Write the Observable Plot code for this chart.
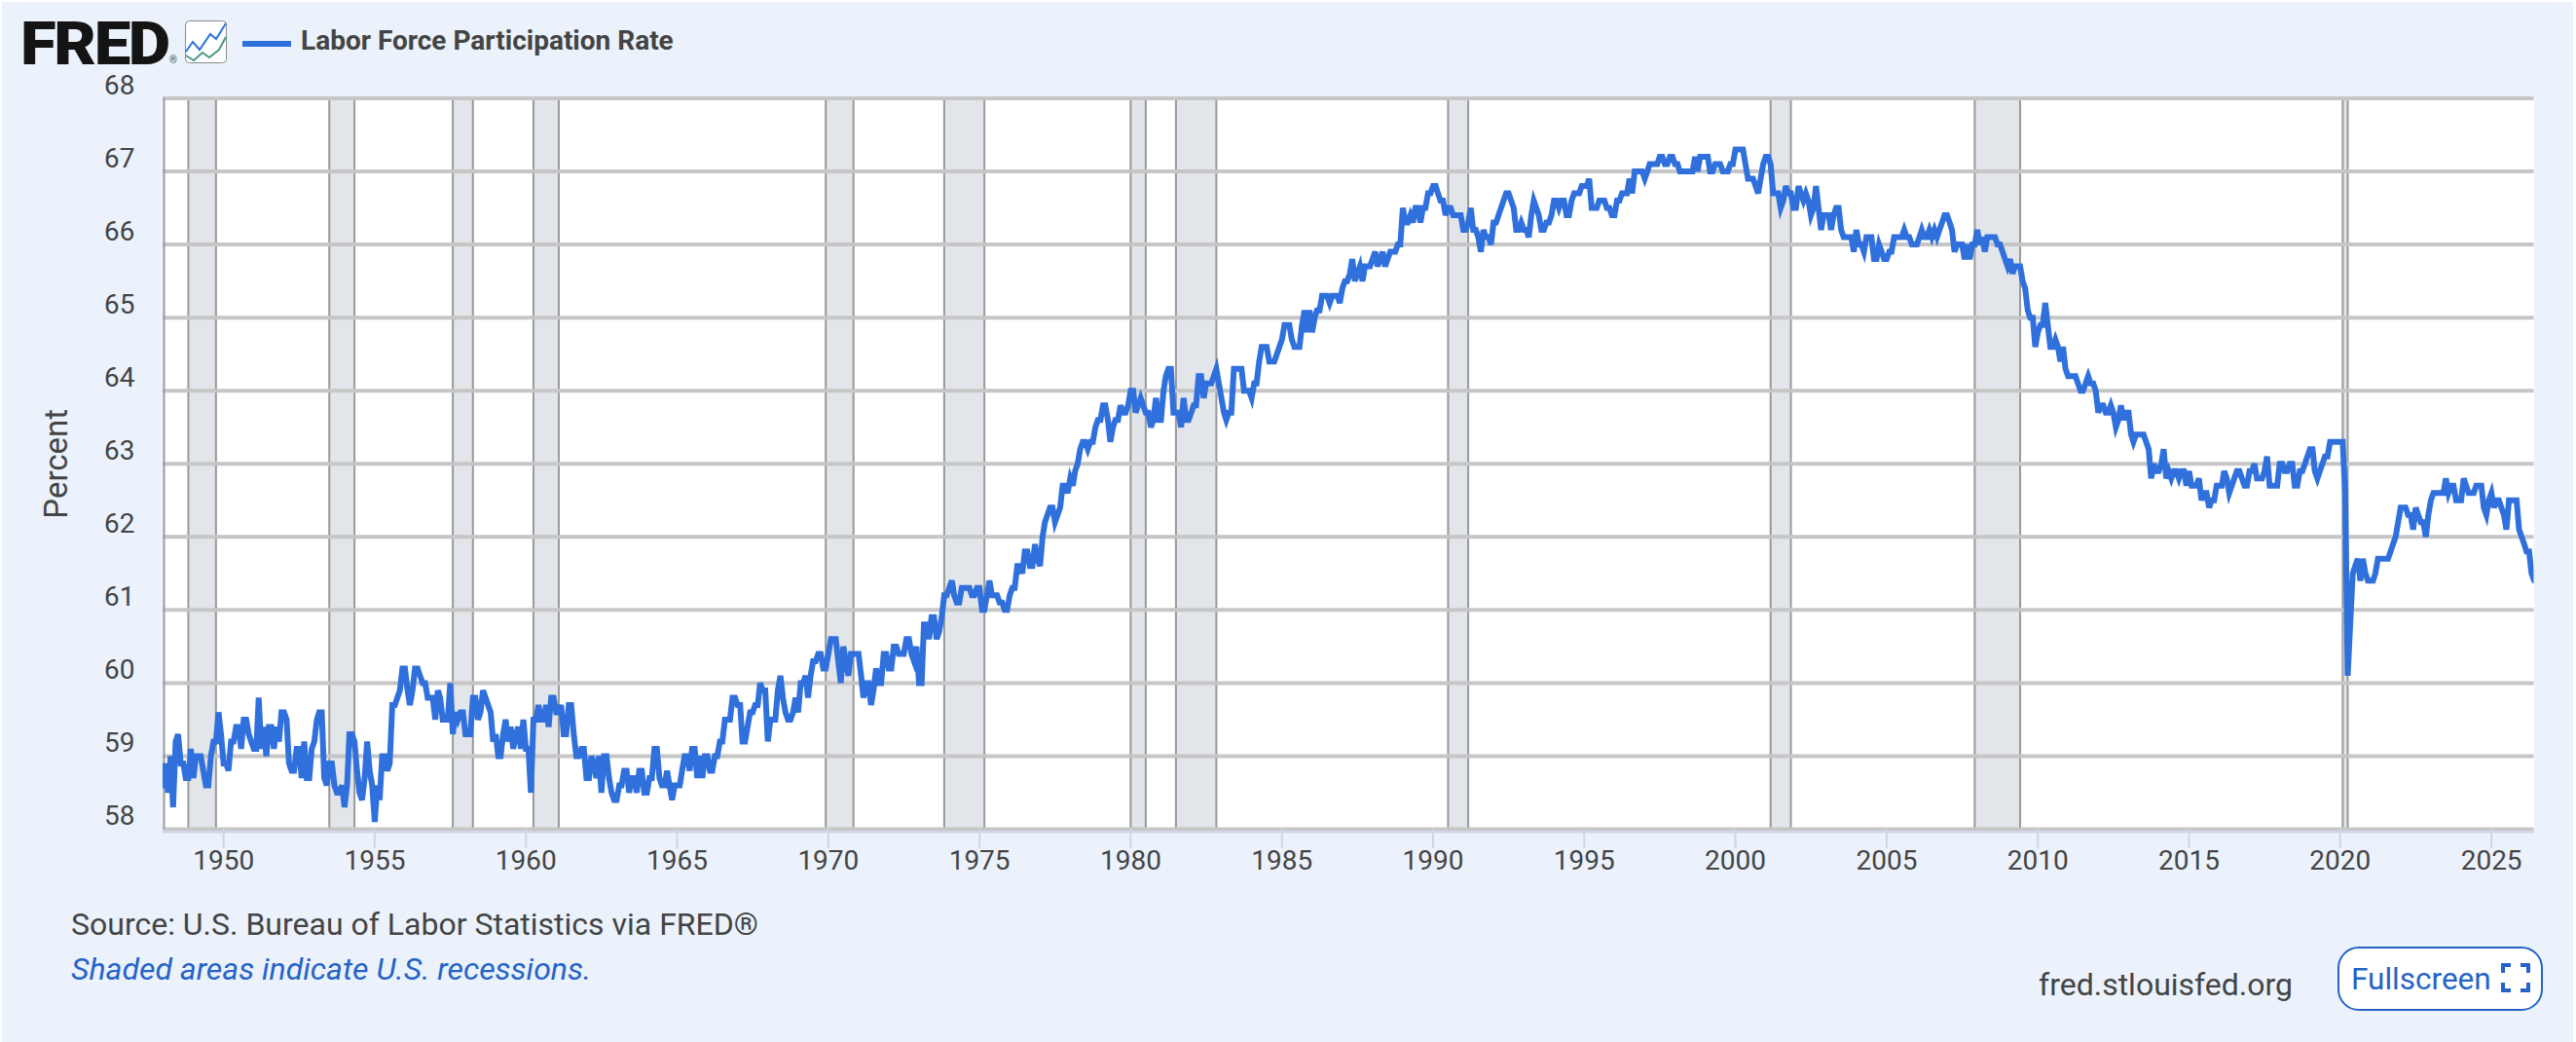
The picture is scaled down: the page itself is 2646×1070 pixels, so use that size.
<!DOCTYPE html>
<html>
<head>
<meta charset="utf-8">
<script src="https://cdn.jsdelivr.net/npm/d3@7"></script>
<script src="https://cdn.jsdelivr.net/npm/@observablehq/plot@0.6"></script>
<style>
html,body{margin:0;padding:0;background:#fff;width:2646px;height:1070px;overflow:hidden;font-family:Roboto,sans-serif}
#panel{position:absolute;left:2px;top:2px;width:2641px;height:1068px;background:#ebf2fb}
#chart{position:absolute;left:0;top:0}
.t{position:absolute;white-space:nowrap;line-height:1}
svg{overflow:visible}
</style>
</head>
<body>
<div id="panel"></div>
<div id="chart"></div>
<div class="t" style="left:21px;top:9px;font:900 61px Roboto,sans-serif;letter-spacing:-2.2px;color:#141414;transform:scaleX(1.1);transform-origin:left center">FRED</div>
<div class="t" style="left:174px;top:56px;font:400 10px Roboto,sans-serif;color:#444">®</div>
<svg style="position:absolute;left:190px;top:21px" width="44" height="45" viewBox="0 0 44 45">
  <rect x="0.5" y="0.5" width="42" height="43" rx="4" fill="#fff" stroke="#8a8a8a"/>
  <polyline points="1,32 8,22 15,30 26,14 32,19 42,3" fill="none" stroke="#2f6fdc" stroke-width="2"/>
  <polyline points="1,36 9,41 18,33 25,38 35,30 42,17" fill="none" stroke="#4a9a8a" stroke-width="2"/>
</svg>
<div style="position:absolute;left:249px;top:42px;width:50px;height:6px;background:#3070dd"></div>
<div class="t" style="left:309px;top:25px;font:700 28px Roboto,sans-serif;color:#444">Labor Force Participation Rate</div>
<div class="t" style="left:73px;top:930px;font:400 32px Roboto,sans-serif;color:#444">Source: U.S. Bureau of Labor Statistics via FRED®</div>
<div class="t" style="left:73px;top:976px;font:italic 400 32px Roboto,sans-serif;color:#2563c7">Shaded areas indicate U.S. recessions.</div>
<div class="t" style="left:2094px;top:992px;font:400 32px Roboto,sans-serif;color:#444">fred.stlouisfed.org</div>
<div style="position:absolute;left:2401px;top:972px;width:207px;height:62px;background:#fff;border:2.5px solid #2563c7;border-radius:22px"></div>
<div class="t" style="left:2415px;top:987px;font:400 31.5px Roboto,sans-serif;color:#2563c7">Fullscreen</div>
<svg style="position:absolute;left:2569px;top:989px" width="30" height="30" viewBox="0 0 30 30" fill="none" stroke="#2563c7" stroke-width="4">
  <path d="M2 10V2H10M20 2H28V10M28 20V28H20M10 28H2V20"/>
</svg>
<script>
const rate1940s = [
  58.6,58.9,58.5,59.0,58.3,59.2,59.3,58.9,58.9,58.7,58.7,59.1,
  58.7,59.0,59.0,59.0,58.8,58.6,58.6,59.0,59.2,59.2,59.6,59.3
];
const rate1950s = [
  58.9,58.9,58.8,59.2,59.2,59.4,59.4,59.1,59.5,59.5,59.3,59.2,
  59.1,59.1,59.8,59.1,59.4,59.0,59.4,59.4,59.1,59.4,59.2,59.6,
  59.6,59.5,58.9,58.8,58.8,59.1,59.1,58.7,59.2,58.7,58.7,59.1,
  59.2,59.5,59.6,59.6,58.7,58.6,58.9,58.9,58.6,58.5,58.5,58.6,
  58.3,58.6,59.3,59.3,59.2,58.8,58.5,58.4,58.7,59.2,58.8,58.6,
  58.1,58.6,58.4,59.0,59.0,58.8,58.9,59.7,59.7,59.8,59.9,60.2,
  60.2,59.9,59.7,59.9,60.2,60.2,60.1,60.0,60.0,59.8,59.8,59.8,
  59.5,59.9,59.8,59.5,59.5,59.5,60.0,59.3,59.6,59.5,59.6,59.6,
  59.3,59.3,59.3,59.8,59.8,59.5,59.6,59.9,59.8,59.7,59.6,59.2,
  59.3,59.0,59.0,59.3,59.5,59.2,59.4,59.1,59.3,59.4,59.1,59.5
];
const rate1960s = [
  59.1,59.1,58.5,59.5,59.5,59.7,59.5,59.5,59.7,59.4,59.8,59.8,
  59.6,59.6,59.7,59.3,59.3,59.7,59.7,59.3,59.0,59.0,59.1,59.1,
  58.7,58.7,59.0,58.9,58.7,59.0,58.5,59.0,59.0,58.7,58.5,58.4,
  58.4,58.6,58.6,58.8,58.8,58.5,58.7,58.7,58.5,58.8,58.8,58.5,
  58.5,58.7,58.7,59.1,59.1,58.7,58.6,58.6,58.8,58.6,58.4,58.6,
  58.6,58.6,58.8,59.0,59.0,58.8,59.1,59.1,58.7,59.0,58.7,59.0,
  59.0,58.8,58.8,59.0,59.0,59.2,59.2,59.5,59.5,59.5,59.8,59.8,
  59.7,59.7,59.2,59.2,59.4,59.6,59.6,59.7,59.7,60.0,59.9,59.9,
  59.2,59.5,59.5,59.5,59.9,60.1,59.8,59.6,59.5,59.5,59.6,59.8,
  59.6,60.0,60.0,60.1,59.8,60.1,60.3,60.3,60.4,60.4,60.2,60.2
];
const rate1970s = [
  60.4,60.6,60.6,60.6,60.3,60.0,60.5,60.3,60.1,60.4,60.4,60.4,
  60.4,60.1,59.8,60.0,60.0,59.7,59.9,60.2,60.0,60.0,60.4,60.4,
  60.2,60.2,60.5,60.5,60.4,60.4,60.4,60.6,60.6,60.4,60.3,60.5,
  60.0,60.0,60.8,60.8,60.6,60.9,60.9,60.6,60.7,60.9,61.2,61.2,
  61.3,61.4,61.2,61.1,61.1,61.3,61.3,61.3,61.3,61.2,61.2,61.3,
  61.3,61.0,61.0,61.2,61.4,61.2,61.2,61.2,61.1,61.1,61.0,61.0,
  61.2,61.3,61.3,61.6,61.6,61.5,61.8,61.8,61.6,61.6,61.9,61.7,
  61.6,62.0,62.2,62.3,62.4,62.4,62.2,62.3,62.4,62.7,62.7,62.6,
  62.8,62.7,62.9,63.0,63.2,63.3,63.3,63.2,63.3,63.3,63.5,63.6,
  63.6,63.8,63.8,63.6,63.3,63.5,63.6,63.6,63.8,63.7,63.7,63.8
];
const rate1980s = [
  64.0,64.0,63.7,63.8,63.9,63.8,63.7,63.7,63.5,63.6,63.9,63.6,
  63.6,64.0,64.2,64.3,64.3,63.7,63.7,63.7,63.5,63.9,63.6,63.6,
  63.7,63.8,63.8,64.2,64.2,63.9,64.1,64.1,64.1,64.2,64.3,64.1,
  63.9,63.7,63.6,63.7,63.7,64.3,64.3,64.3,64.3,64.0,64.0,64.0,
  63.9,64.1,64.1,64.4,64.6,64.6,64.6,64.4,64.4,64.4,64.5,64.6,
  64.7,64.9,64.9,64.9,64.7,64.6,64.6,64.6,64.9,65.1,64.8,65.1,
  64.8,65.0,65.1,65.1,65.3,65.3,65.3,65.2,65.3,65.3,65.3,65.2,
  65.4,65.5,65.5,65.6,65.8,65.5,65.6,65.7,65.5,65.7,65.7,65.7,
  65.8,65.9,65.7,65.8,65.9,65.7,65.8,65.9,65.9,65.9,66.0,66.0,
  66.5,66.3,66.3,66.4,66.3,66.5,66.5,66.3,66.5,66.5,66.7,66.7
];
const rate1990s = [
  66.8,66.8,66.7,66.6,66.6,66.4,66.5,66.5,66.4,66.4,66.4,66.4,
  66.2,66.2,66.3,66.5,66.2,66.2,66.1,65.9,66.2,66.1,66.1,66.0,
  66.3,66.3,66.4,66.5,66.6,66.7,66.7,66.6,66.5,66.2,66.2,66.3,
  66.2,66.2,66.1,66.4,66.6,66.5,66.4,66.2,66.2,66.3,66.3,66.4,
  66.6,66.6,66.5,66.6,66.6,66.4,66.4,66.6,66.7,66.7,66.7,66.8,
  66.8,66.8,66.9,66.5,66.5,66.5,66.6,66.6,66.6,66.5,66.5,66.4,
  66.4,66.6,66.6,66.7,66.7,66.7,66.9,66.7,67.0,67.0,67.0,67.0,
  66.9,67.0,67.1,67.1,67.1,67.1,67.2,67.2,67.1,67.1,67.2,67.2,
  67.1,67.1,67.0,67.0,67.0,67.0,67.0,67.0,67.2,67.0,67.2,67.2,
  67.2,67.2,67.0,67.0,67.1,67.1,67.1,67.0,67.0,67.0,67.1,67.1
];
const rate2000s = [
  67.3,67.3,67.3,67.3,67.1,66.9,66.9,66.9,66.8,66.7,66.9,67.1,
  67.2,67.2,67.1,66.7,66.7,66.7,66.5,66.6,66.8,66.7,66.7,66.5,
  66.5,66.8,66.7,66.6,66.7,66.6,66.4,66.5,66.8,66.5,66.2,66.4,
  66.4,66.4,66.2,66.4,66.5,66.5,66.2,66.1,66.1,66.1,66.1,65.9,
  66.2,66.0,66.0,65.9,66.1,66.1,66.1,65.8,65.8,66.0,65.9,65.8,
  65.8,65.9,65.9,66.1,66.1,66.1,66.1,66.2,66.1,66.1,66.0,66.0,
  66.0,66.1,66.2,66.1,66.1,66.2,66.1,66.2,66.1,66.2,66.3,66.4,
  66.4,66.3,66.2,65.9,66.0,66.0,66.0,65.8,66.0,65.8,66.0,66.0,
  66.2,66.0,66.1,65.9,66.1,66.1,66.1,66.1,66.0,66.0,65.9,65.8,
  65.7,65.8,65.6,65.7,65.7,65.7,65.5,65.4,65.1,65.0,65.0,64.6
];
const rate2010s = [
  64.8,64.9,64.9,65.2,64.9,64.6,64.6,64.7,64.6,64.4,64.6,64.3,
  64.2,64.2,64.2,64.2,64.1,64.0,64.0,64.1,64.2,64.1,64.1,64.0,
  63.7,63.8,63.8,63.7,63.7,63.8,63.7,63.5,63.6,63.8,63.6,63.7,
  63.7,63.4,63.3,63.4,63.4,63.4,63.4,63.3,63.2,62.8,63.0,62.9,
  62.9,63.0,63.2,62.8,62.9,62.8,62.9,62.9,62.8,62.9,62.9,62.7,
  62.9,62.7,62.7,62.7,62.8,62.5,62.6,62.6,62.4,62.5,62.5,62.7,
  62.7,62.7,62.9,62.8,62.6,62.7,62.8,62.9,62.9,62.8,62.7,62.7,
  62.9,62.9,63.0,62.8,62.8,62.8,62.9,63.1,62.7,62.7,62.7,62.7,
  63.0,63.0,62.9,62.9,63.0,63.0,62.7,62.7,62.9,62.9,63.0,63.1,
  63.2,63.2,62.9,62.8,62.9,63.0,63.1,63.1,63.3,63.3,63.3,63.3
];
const rate2020s = [
  63.3,63.3,62.6,60.1,60.8,61.5,61.6,61.7,61.4,61.7,61.5,61.4,
  61.4,61.4,61.5,61.7,61.7,61.7,61.7,61.7,61.8,61.9,62.0,62.2,
  62.4,62.4,62.4,62.3,62.3,62.1,62.4,62.3,62.2,62.2,62.0,62.3,
  62.5,62.6,62.6,62.6,62.6,62.6,62.8,62.6,62.7,62.7,62.5,62.5,
  62.5,62.8,62.7,62.6,62.6,62.6,62.7,62.7,62.7,62.4,62.3,62.5,
  62.6,62.4,62.5,62.5,62.4,62.3,62.1,62.5,62.5,62.5,62.5,62.1,
  62.0,61.9,61.8,61.8,61.5,61.4
];
const recessionStart = ["1948-11","1953-07","1957-08","1960-04","1969-12","1973-11","1980-01","1981-07","1990-07","2001-03","2007-12","2020-02"];
const recessionEnd   = ["1949-10","1954-05","1958-04","1961-02","1970-11","1975-03","1980-07","1982-11","1991-03","2001-11","2009-06","2020-04"];
const yTicks = [58,59,60,61,62,63,64,65,66,67,68];
const xTickYears = [1950,1955,1960,1965,1970,1975,1980,1985,1990,1995,2000,2005,2010,2015,2020,2025];

const values = [...rate1940s,...rate1950s,...rate1960s,...rate1970s,...rate1980s,...rate1990s,...rate2000s,...rate2010s,...rate2020s];
const series = values.map((v,i)=>({date:new Date(Date.UTC(1948,i,1)),value:v}));
const bands = recessionStart.map((s,i)=>({start:new Date(s+"-01T00:00Z"),end:new Date(recessionEnd[i]+"-01T00:00Z")}));
const edges = bands.flatMap(b=>[b.start,b.end]);
const xTicks = xTickYears.map(y=>new Date(Date.UTC(y,0,1)));
const grey="#999999", grid="#c6c6c6";

const plot = Plot.plot({
  width:2646, height:900,
  marginTop:100.5, marginBottom:49, marginLeft:167, marginRight:43.5,
  style:{background:"transparent",fontFamily:"Roboto, sans-serif",fontSize:"28px",color:"#444"},
  x:{type:"utc",domain:[series[0].date,series[series.length-1].date]},
  y:{domain:[58,68]},
  marks:[
    Plot.frame({fill:"#fff",stroke:"none"}),
    Plot.rect(bands,{x1:"start",x2:"end",y1:58,y2:68,fill:"#e2e5ea"}),
    Plot.ruleX(edges,{stroke:grey,strokeWidth:2}),
    Plot.ruleY(yTicks,{stroke:grid,strokeWidth:4}),
    Plot.ruleX([series[0].date],{dx:1,stroke:grey,strokeWidth:2}),
    Plot.line(series,{x:"date",y:"value",stroke:"#3070dd",strokeWidth:6,strokeLinejoin:"miter",strokeMiterlimit:4,clip:true}),
    Plot.axisY({ticks:yTicks,tickSize:0,tickPadding:29,dy:-13,label:null,fontSize:28,fill:"#444"}),
    Plot.axisY({ticks:[],tickSize:0,label:"Percent",labelAnchor:"center",labelArrow:"none",labelOffset:122,fontSize:33,fill:"#444"}),
    Plot.axisX({ticks:xTicks,tickSize:20,tickPadding:2,tickFormat:d=>String(d.getUTCFullYear()),label:null,stroke:"#ccd6eb",strokeWidth:2,fontSize:28,fill:"#444"}),
    Plot.ruleY([58],{dy:3,stroke:"#ccd6eb",strokeWidth:2})
  ]
});
document.getElementById("chart").appendChild(plot);
</script>
</body>
</html>
